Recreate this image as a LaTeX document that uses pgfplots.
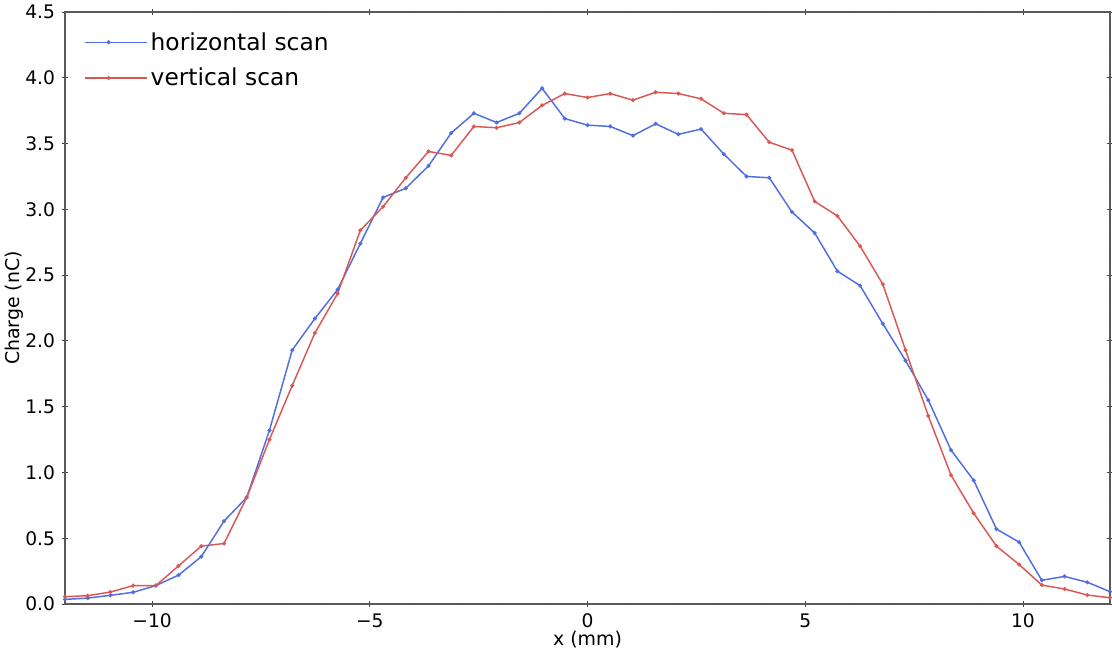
\documentclass[border=0pt]{standalone}
\usepackage{fontspec}
\setmainfont{DejaVu Sans}
\usepackage{pgfplots}
\pgfplotsset{compat=1.18}
\usepackage{pgfplotstable}

\definecolor{hscan}{RGB}{80,110,225}
\definecolor{vscan}{RGB}{218,88,84}

% Beam charge profile: position (mm), horizontal scan (nC), vertical scan (nC)
\pgfplotstableread{
x        h      v
-12.0000 0.035  0.056
-11.4783 0.045  0.063
-10.9565 0.066  0.091
-10.4348 0.089  0.140
-9.9130  0.140  0.140
-9.3913  0.220  0.290
-8.8696  0.360  0.440
-8.3478  0.630  0.460
-7.8261  0.810  0.810
-7.3043  1.320  1.250
-6.7826  1.930  1.660
-6.2609  2.170  2.060
-5.7391  2.390  2.360
-5.2174  2.740  2.840
-4.6957  3.090  3.020
-4.1739  3.160  3.240
-3.6522  3.330  3.440
-3.1304  3.580  3.410
-2.6087  3.730  3.630
-2.0870  3.660  3.620
-1.5652  3.730  3.660
-1.0435  3.920  3.790
-0.5217  3.690  3.880
0.0000   3.640  3.850
0.5217   3.630  3.880
1.0435   3.560  3.830
1.5652   3.650  3.890
2.0870   3.570  3.880
2.6087   3.610  3.840
3.1304   3.420  3.730
3.6522   3.250  3.720
4.1739   3.240  3.510
4.6957   2.980  3.450
5.2174   2.820  3.060
5.7391   2.530  2.950
6.2609   2.420  2.720
6.7826   2.130  2.430
7.3043   1.850  1.930
7.8261   1.550  1.430
8.3478   1.170  0.980
8.8696   0.940  0.690
9.3913   0.570  0.440
9.9130   0.470  0.300
10.4348  0.180  0.144
10.9565  0.210  0.114
11.4783  0.165  0.068
12.0000  0.094  0.048
}\profile

\begin{document}
\begin{tikzpicture}
\begin{axis}[
  scale only axis,
  width=783.75pt, height=444pt,
  xmin=-12, xmax=12, ymin=0, ymax=4.5,
  xtick={-10,-5,0,5,10},
  xticklabels={−10,−5,0,5,10},
  ytick={0,0.5,...,4.5},
  yticklabels={0.0,0.5,1.0,1.5,2.0,2.5,3.0,3.5,4.0,4.5},
  minor x tick num=4,
  minor y tick num=4,
  tick align=center,
  major tick length=4pt,
  minor tick length=2.2pt,
  every tick/.style={black!75, line width=0.6pt},
  axis line style={black!65, line width=0.8pt},
  tick label style={font=\fontsize{14}{16}\selectfont},
  xticklabel style={yshift=-2pt},
  yticklabel style={xshift=-2pt},
  label style={font=\fontsize{14.2}{16}\selectfont},
  xlabel={x (mm)},
  ylabel={Charge (nC)},
  xlabel style={at={(axis description cs:0.5,0)}, anchor=north, yshift=-17pt},
  ylabel style={at={(axis description cs:0,0.5)}, anchor=south, yshift=27.5pt},
  legend style={draw=none, fill=none, at={(axis description cs:0.014,0.975)},
    anchor=north west, font=\fontsize{17.5}{21}\selectfont,
    row sep=8pt},
  legend cell align=left,
  legend image code/.code={
    \path (0pt,0pt) -- (47pt,0pt);
    \draw[#1, mark=none] (0pt,0pt) -- (36pt,0pt);
    \fill[#1] (18pt,0pt) circle (0.9pt);
  },
]
\addplot[hscan, line width=1.1pt, mark=*, mark size=0.9pt] table[x=x, y=h] {\profile};
\addlegendentry{horizontal scan}
\addplot[vscan, line width=1.1pt, mark=*, mark size=0.9pt] table[x=x, y=v] {\profile};
\addlegendentry{vertical scan}
\end{axis}
\pgfresetboundingbox
\path[use as bounding box] ([xshift=-48.75pt, yshift=-35pt]current axis.south west)
  rectangle ([xshift=1.5pt, yshift=9pt]current axis.north east);
\end{tikzpicture}
\end{document}
